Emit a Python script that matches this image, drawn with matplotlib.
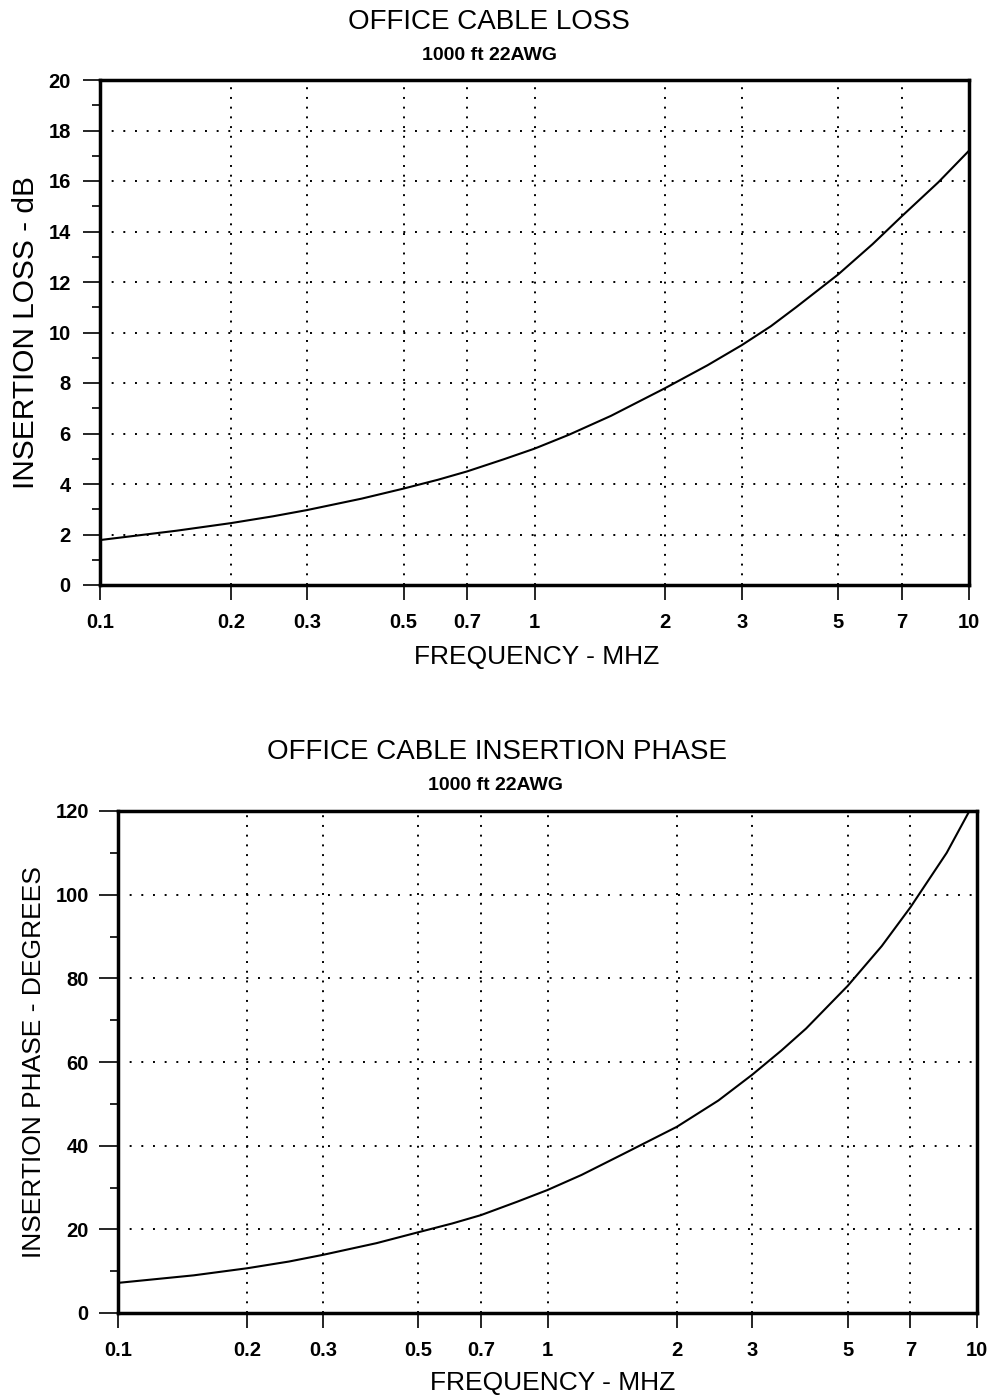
import matplotlib
matplotlib.use("Agg")
import matplotlib.pyplot as plt
from matplotlib.ticker import FixedLocator, FixedFormatter, NullLocator

plt.rcParams['font.family'] = ['Liberation Sans', 'DejaVu Sans']

# Insertion loss of 1000 ft of 22AWG office cable
loss_freq_mhz = [0.1, 0.15, 0.2, 0.25, 0.3, 0.4, 0.5, 0.6, 0.7, 0.85, 1.0, 1.2, 1.5,
                 2, 2.5, 3, 3.5, 4, 5, 6, 7, 8.5, 10]
loss_db = [1.78, 2.15, 2.45, 2.72, 2.97, 3.42, 3.82, 4.17, 4.5, 4.98, 5.4, 5.95, 6.7,
           7.8, 8.7, 9.5, 10.25, 11.0, 12.3, 13.5, 14.6, 15.95, 17.2]

# Insertion phase of the same cable
phase_freq_mhz = [0.1, 0.15, 0.2, 0.25, 0.3, 0.4, 0.5, 0.6, 0.7, 0.85, 1.0, 1.2, 1.5,
                  2, 2.5, 3, 3.5, 4, 5, 6, 7, 8.5, 9.6]
phase_deg = [7.2, 9.0, 10.7, 12.3, 13.9, 16.7, 19.3, 21.4, 23.4, 26.6, 29.4, 33.0, 38.0,
             44.5, 50.8, 57.0, 62.7, 68.0, 78.2, 87.7, 97.0, 110.0, 120.0]

freq_ticks = [0.1, 0.2, 0.3, 0.5, 0.7, 1, 2, 3, 5, 7, 10]
freq_tick_labels = ["0.1", "0.2", "0.3", "0.5", "0.7", "1", "2", "3", "5", "7", "10"]
freq_grid = [0.2, 0.3, 0.5, 0.7, 1, 2, 3, 5, 7]

loss_ticks = [0, 2, 4, 6, 8, 10, 12, 14, 16, 18, 20]
loss_minor = [1, 3, 5, 7, 9, 11, 13, 15, 17, 19]
phase_ticks = [0, 20, 40, 60, 80, 100, 120]
phase_minor = [10, 30, 50, 70, 90, 110]

W, H = 995, 1397
fig = plt.figure(figsize=(W / 100, H / 100), dpi=100)


def px_axes(left, top, right, bottom):
    return fig.add_axes([left / W, 1 - bottom / H, (right - left) / W, (bottom - top) / H])


def style_axes(ax, x, y, yticks, yminor, ymax, ylabel, title, title_xy, sub_xy,
               xlabel_pos, ylabel_pos, ylabel_size, ytick_len, ypad):
    ax.plot(x, y, color='black', lw=1.5, solid_capstyle='round', solid_joinstyle='round')
    ax.set_xscale('log')
    ax.set_xlim(0.1, 10)
    ax.set_ylim(0, ymax)

    ax.xaxis.set_major_locator(FixedLocator(freq_ticks))
    ax.xaxis.set_major_formatter(FixedFormatter(freq_tick_labels))
    ax.xaxis.set_minor_locator(NullLocator())
    ax.yaxis.set_major_locator(FixedLocator(yticks))
    ax.yaxis.set_minor_locator(FixedLocator(yminor))

    ax.tick_params(axis='x', which='major', direction='out', length=11, width=1.2,
                   pad=9, labelsize=14.5)
    ax.tick_params(axis='y', which='major', direction='out', length=ytick_len, width=1.2,
                   pad=ypad, labelsize=14.5)
    ax.tick_params(axis='y', which='minor', direction='out', length=6, width=1.2)
    for lbl in ax.get_xticklabels() + ax.get_yticklabels():
        lbl.set_fontweight('bold')

    for s in ax.spines.values():
        s.set_linewidth(2.5)
        s.set_color('black')

    # dotted reference grid
    for v in freq_grid:
        ax.axvline(v, color='black', lw=1.4, linestyle=(0, (1, 4)), zorder=0)
    for v in yticks[1:-1]:
        ax.axhline(v, color='black', lw=1.4, linestyle=(0, (1, 5)), zorder=0)

    ax.set_xlabel("FREQUENCY - MHZ", fontsize=19)
    ax.xaxis.set_label_coords(*xlabel_pos)
    ax.set_ylabel(ylabel, fontsize=ylabel_size)
    ax.yaxis.set_label_coords(*ylabel_pos)

    fig.text(title_xy[0] / W, 1 - title_xy[1] / H, title, fontsize=20,
             ha='center', va='center')
    fig.text(sub_xy[0] / W, 1 - sub_xy[1] / H, "1000 ft 22AWG", fontsize=14,
             fontweight='bold', ha='center', va='center')


ax1 = px_axes(100, 80, 969, 585)
style_axes(ax1, loss_freq_mhz, loss_db, loss_ticks, loss_minor, 20,
           "INSERTION LOSS - dB", "OFFICE CABLE LOSS", (489, 22), (490, 55),
           (0.503, -0.119), (-0.069, 0.50), 21.5, 12, 9)

ax2 = px_axes(118, 811, 977, 1313)
style_axes(ax2, phase_freq_mhz, phase_deg, phase_ticks, phase_minor, 120,
           "INSERTION PHASE - DEGREES", "OFFICE CABLE INSERTION PHASE", (497, 752), (496, 785),
           (0.506, -0.1155), (-0.084, 0.50), 19, 14, 7)

fig.savefig("out.png", dpi=100)
